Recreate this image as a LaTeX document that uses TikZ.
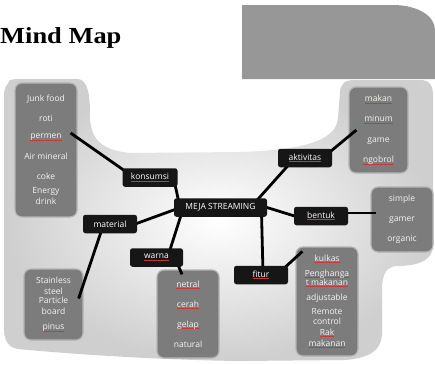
\documentclass[tikz,border=0pt]{standalone}
\usepackage{fontspec}
\setmainfont{Open Sans}
\newfontfamily\titlefont{Liberation Serif}
\usetikzlibrary{calc}
\definecolor{boxgray}{HTML}{7C7C7C}
\definecolor{boxedge}{HTML}{B4B4B4}
\definecolor{labelblack}{HTML}{161616}
\definecolor{topgray}{HTML}{979797}
\definecolor{spell}{HTML}{C83A3A}
\definecolor{txt}{HTML}{F4F4F4}
\pgfdeclarelayer{blob}
\pgfdeclarelayer{boxes}
\pgfdeclarelayer{links}
\pgfsetlayers{blob,boxes,links,main}
\newsavebox\rwbox
\newcommand\rw[1]{\sbox\rwbox{#1}\leavevmode\rlap{\textcolor{spell}{\rule[-2.2pt]{\wd\rwbox}{0.9pt}}}\usebox\rwbox}
\tikzset{
  itembox/.style={fill=boxgray, draw=boxedge, line width=1.2pt, rounded corners=7pt,
    text=txt, align=center, font=\fontsize{8.5}{10}\selectfont, inner sep=0pt},
  tag/.style={fill=labelblack, rounded corners=2.5pt, text=white,
    font=\fontsize{8.5}{10}\selectfont, inner sep=0pt, minimum height=18.5pt},
  link/.style={line width=2.8pt, black},
}
\begin{document}
\begin{tikzpicture}[x=1pt,y=-1pt]
\useasboundingbox (0,0) rectangle (435,364);

% background blob
\begin{pgfonlayer}{blob}
\fill[white] (0,0) rectangle (435,364);
\path[shade, inner color=white, outer color=gray!38]
  (8,84) .. controls (9,80) .. (16,79) -- (78,79)
  .. controls (88,80) and (90,95) .. (90,115)
  .. controls (90,140) and (102,150) .. (130,153) -- (240,152)
  .. controls (300,150) and (336,142) .. (338,118) -- (340,92)
  .. controls (341,83) and (345,80) .. (355,80) -- (420,80)
  .. controls (430,80) and (433,86) .. (433,96) -- (433,245)
  .. controls (433,260) and (420,265) .. (400,266) -- (396,266)
  .. controls (386,267) and (382,275) .. (382,290) -- (382,335)
  .. controls (381,350) and (370,358) .. (345,360) -- (240,361)
  .. controls (160,360) and (70,354) .. (18,349)
  .. controls (7,347) and (4,340) .. (4,325) -- (4,96)
  .. controls (4,89) and (6,85) .. (8,84) -- cycle;
\end{pgfonlayer}

% title and top grey panel
\node[anchor=base west, inner sep=0pt, font=\titlefont\bfseries\fontsize{23}{23}\selectfont] (title) at (0,43) {\scalebox{1.15}[1]{Mind Map}};
\fill[topgray] (242,79) -- (242,5) -- (393,5) .. controls (416,5) and (435,15) .. (435,30) -- (435,79) -- cycle;

% grey item boxes
\begin{pgfonlayer}{boxes}
\node[itembox, minimum width=62pt, minimum height=134pt] (jf) at (46,150)
  {Junk food\\[10pt] roti\\[7pt] \rw{permen}\\[11pt] Air mineral\\[10pt] coke\\[4pt] Energy\\[1pt] drink};
\node[itembox, minimum width=59pt, minimum height=86pt] (mk) at (378.5,130)
  {\rw{makan}\\[10pt] \rw{minum}\\[11pt] game\\[10pt] \rw{ngobrol}};
\node[itembox, minimum width=62pt, minimum height=65pt] (sp) at (402,219.5)
  {simple\\[10pt] gamer\\[10pt] organic};
\node[itembox, minimum width=59pt, minimum height=71pt] (st) at (53.5,304.5)
  {Stainless\\[1pt] steel\\[-1pt] Particle\\[1pt] board\\[5pt] \rw{pinus}};
\node[itembox, minimum width=62pt, minimum height=88pt] (nt) at (188,314)
  {\rw{netral}\\[10pt] \rw{cerah}\\[10pt] \rw{gelap}\\[10pt] natural};
\node[itembox, minimum width=62pt, minimum height=109pt] (kl) at (327,301.5)
  {\rw{kulkas}\\[5pt] \rw{Penghanga}\\[-1pt] \rw{t makanan}\\[5pt] adjustable\\[4pt] Remote\\[0pt] control\\[1pt] \rw{Rak}\\[1pt] \rw{makanan}};
\end{pgfonlayer}

% black labels
\node[tag, minimum width=93pt] (meja) at (220.5,207.5) {MEJA STREAMING};
\node[tag, minimum width=55pt] (k) at (150,177.5) {\rw{konsumsi}};
\node[tag, minimum width=54pt] (m) at (110,224) {material};
\node[tag, minimum width=53pt] (w) at (156.5,257.5) {\rw{warna}};
\node[tag, minimum width=54pt] (a) at (305,158) {\rw{aktivitas}};
\node[tag, minimum width=54pt] (b) at (321,216) {\rw{bentuk}};
\node[tag, minimum width=54pt] (f) at (261,275) {\rw{fitur}};

% connectors
\begin{pgfonlayer}{links}
\draw[link] ($(jf.east)+(-7,-17)$) -- ($(k.center)+(-20,-3)$);
\draw[link] ($(k.center)+(25,7)$) -- ($(meja.center)+(-42,-7)$);
\draw[link] ($(m.center)+(17,3)$) -- ($(meja.center)+(-40,0)$);
\draw[link] ($(m.center)+(-8,5)$) -- ($(st.east)+(-5,-6)$);
\draw[link] ($(meja.center)+(-38,3)$) -- ($(w.center)+(12,-3)$);
\draw[link] ($(w.center)+(20,4)$) -- ($(nt.north)+(-6,5)$);
\draw[link] ($(meja.center)+(30,0)$) -- ($(a.center)+(-12,2)$);
\draw[link] ($(a.center)+(20,-2)$) -- ($(mk.west)+(8,0)$);
\draw[link] ($(meja.center)+(40,-2)$) -- ($(b.center)+(-20,2)$);
\draw[link] ($(b.center)+(20,-3)$) -- ($(sp.west)+(6,-6.5)$);
\draw[link] ($(meja.center)+(41,5)$) -- ($(f.center)+(2,-2)$);
\draw[link] ($(f.center)+(20,-4)$) -- ($(kl.north west)+(7,5)$);
\end{pgfonlayer}
\end{tikzpicture}
\end{document}
